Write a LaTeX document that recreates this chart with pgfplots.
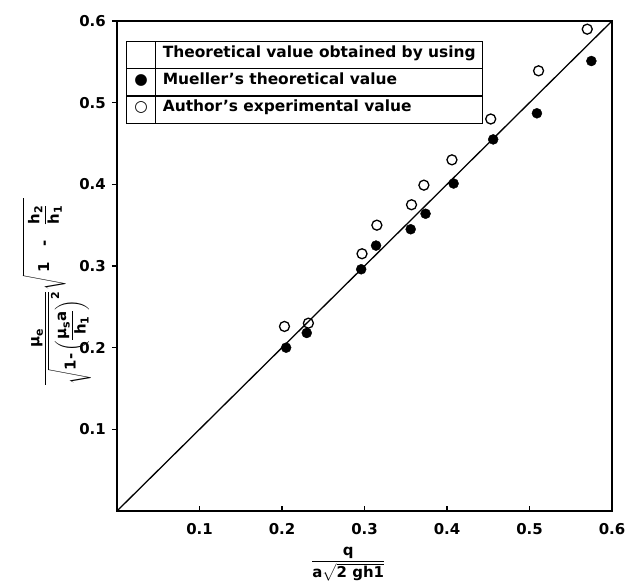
\documentclass[border=0pt]{standalone}
\usepackage{fontspec}
\setmainfont{DejaVu Sans}
\usepackage{amsmath}
\usepackage{array}
\usepackage{pgfplots}
\pgfplotsset{compat=1.18}
\newcommand{\TXa}[1]{\mbox{\bfseries #1}}
\newcommand{\TXs}[1]{\mbox{\fontsize{11}{13}\selectfont\bfseries #1}}
\begin{document}
\begin{tikzpicture}[font=\fontsize{15}{18}\selectfont\bfseries]
\begin{axis}[
  at={(0,0)}, anchor=south west,
  width=495bp, height=490bp, scale only axis,
  xmin=0, xmax=0.6, ymin=0, ymax=0.6,
  xtick={0.1,0.2,0.3,0.4,0.5,0.6},
  ytick={0.1,0.2,0.3,0.4,0.5,0.6},
  xticklabels={0.1,0.2,0.3,0.4,0.5,0.6},
  yticklabels={0.1,0.2,0.3,0.4,0.5,0.6},
  /pgf/number format/assume math mode=true,
  tick pos=left, tick align=inside, major tick length=5bp,
  y tick style={xshift=-5bp},
  tick style={line width=1.2bp, black},
  axis line style={line width=1.5bp},
  xticklabel style={inner sep=0pt, anchor=north, yshift=-12bp},
  yticklabel style={inner sep=0pt, anchor=east, xshift=-11bp},
  xlabel={$\dfrac{\TXa{q}}{\TXa{a}\sqrt{\TXa{2 gh1}}}$},
  xlabel style={at={(axis description cs:0.467,0)}, anchor=north, inner sep=0pt, yshift=-36bp},
  ylabel={$\dfrac{\TXa{μ}_{\TXs{e}}}{\sqrt{\TXa{1-}\left(\dfrac{\TXa{μ}_{\TXs{s}}\TXa{a}}{\TXa{h}_{\TXs{1}}}\right)^{\TXs{2}}}}\sqrt{\;\TXa{1}\quad\TXa{-}\quad\dfrac{\TXa{h}_{\TXs{2}}}{\TXa{h}_{\TXs{1}}}\;\,}$},
  ylabel style={at={(axis description cs:-0.122,0.447)}, anchor=center, inner sep=0pt},
]
\addplot[black, line width=1.3bp] coordinates {(0,0) (0.6,0.6)};
\addplot[only marks, mark=*, mark size=5bp, black] coordinates {
  (0.205,0.200) (0.230,0.218) (0.296,0.296) (0.314,0.325) (0.356,0.345)
  (0.374,0.364) (0.408,0.401) (0.456,0.455) (0.509,0.487) (0.575,0.551)};
\addplot[only marks, mark=o, mark size=5bp, black, mark options={line width=1.3bp, fill=white}] coordinates {
  (0.203,0.226) (0.232,0.230) (0.297,0.315) (0.315,0.350) (0.357,0.375)
  (0.372,0.399) (0.406,0.430) (0.453,0.480) (0.511,0.539) (0.570,0.590)};
\node[anchor=north west, inner sep=0pt, fill=white] at (axis description cs:0.018,0.959) {%
  \fontsize{15.5}{18}\selectfont\bfseries
  \setlength{\arrayrulewidth}{1.1bp}\setlength{\tabcolsep}{6.5bp}%
  \begin{tabular}{|c|l|}\hline
  \makebox[15bp]{} & \rule[-11bp]{0pt}{26bp}Theoretical value obtained by using \\ \hline
  \makebox[15bp]{●} & \rule[-11bp]{0pt}{26bp}Mueller's theoretical value \\ \hline
  \makebox[15bp]{○} & \rule[-11bp]{0pt}{26bp}Author's experimental value \\ \hline
  \end{tabular}};
\end{axis}
\pgfresetboundingbox
\path (-117bp,-76bp) rectangle (512bp,511bp);
\end{tikzpicture}
\end{document}
